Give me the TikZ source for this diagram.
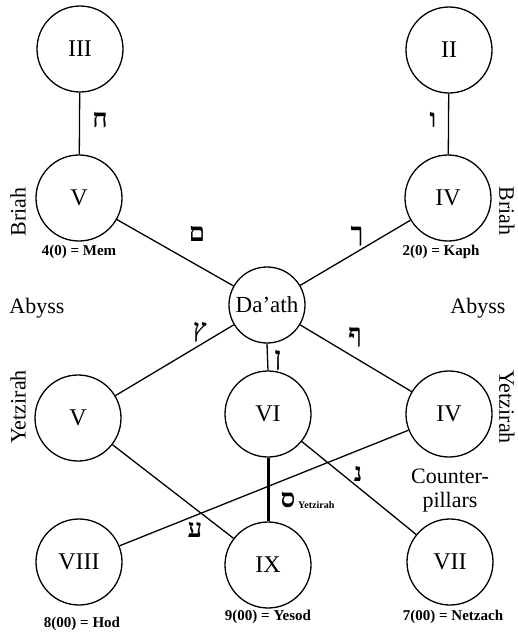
\documentclass[tikz,border=0pt]{standalone}
\usepackage{fontspec}
\setmainfont{Liberation Serif}
\newfontfamily\hebfont[Script=Hebrew]{Liberation Serif}
\begin{document}
\begin{tikzpicture}[x=1pt,y=-1pt,
  sef/.style={circle,draw,line width=1.3pt,minimum size=86pt,inner sep=0pt,font=\fontsize{24}{26}\selectfont},
  dsef/.style={circle,draw,line width=1.3pt,minimum size=76pt,inner sep=0pt,font=\fontsize{23}{25}\selectfont},
  path/.style={line width=1.3pt},
  thickpath/.style={line width=3pt},
  heb/.style={font=\hebfont\bfseries\fontsize{26}{28}\selectfont,inner sep=0pt},
  small/.style={font=\bfseries\fontsize{15}{17}\selectfont,inner sep=0pt},
  big/.style={font=\fontsize{22}{24}\selectfont,inner sep=0pt}]
\useasboundingbox (0,0) rectangle (518,635);
% sephiroth
\node[sef] (III) at (80,49) {III};
\node[sef] (II) at (449,50) {II};
\node[sef] (VB) at (79,198) {V};
\node[sef] (IVB) at (448,198) {IV};
\node[dsef] (Da) at (267,305) {Da'ath};
\node[sef] (VY) at (78,418) {V};
\node[sef] (VI) at (268,414) {VI};
\node[sef] (IVY) at (449,414) {IV};
\node[sef] (VIII) at (79,562) {VIII};
\node[sef] (IX) at (268,565) {IX};
\node[sef] (VII) at (450,562) {VII};
% paths
\draw[path] (III) -- (VB);
\draw[path] (II) -- (IVB);
\draw[path] (VB) -- (Da);
\draw[path] (IVB) -- (Da);
\draw[path] (Da) -- (VY);
\draw[path] (Da) -- (IVY);
\draw[path] (Da.south) -- (VI.north);
\draw[thickpath] (VI.south) -- (IX.north);
\draw[path] (VY) -- (IX);
\draw[path] (VI) -- (VII);
\draw[path] (VIII) -- (IVY);
% hebrew letters
\node[heb] (hCheth) at (100,120) {ח};
\node[heb] (hVav) at (433,120) {ו};
\node[heb] (hMem) at (197,234) {ם};
\node[heb] (hKaph) at (357,236) {ך};
\node[heb] (hTsade) at (200,332) {ץ};
\node[heb] (hPe) at (355,337) {ף};
\node[heb] (hNun) at (278,360) {ן};
\node[heb] (hNunb) at (358,474) {נ};
\node[heb] (hSamekh) at (288,500) {ס};
\node[font=\bfseries\fontsize{10}{12}\selectfont,inner sep=0pt,anchor=west] (ysub) at (298,505) {Yetzirah};
\node[heb] (hAyin) at (195,530) {ע};
% labels
\node[small] (lMem) at (79,252) {4(0) = Mem};
\node[small] (lKaph) at (441,252) {2(0) = Kaph};
\node[small] (lHod) at (82,624) {8(00) = Hod};
\node[small] (lYesod) at (268,617) {9(00) = Yesod};
\node[small] (lNetzach) at (453,617) {7(00) = Netzach};
\node[big,rotate=90] (bL) at (18,212) {Briah};
\node[big,rotate=-90] (bR) at (507,211) {Briah};
\node[big] (aL) at (37,308) {Abyss};
\node[big] (aR) at (478,308) {Abyss};
\node[big,rotate=90] (yL) at (18,407) {Yetzirah};
\node[big,rotate=-90] (yR) at (507,407) {Yetzirah};
\node[big,align=center] (cp) at (450,491) {Counter-\\pillars};
\end{tikzpicture}
\end{document}
